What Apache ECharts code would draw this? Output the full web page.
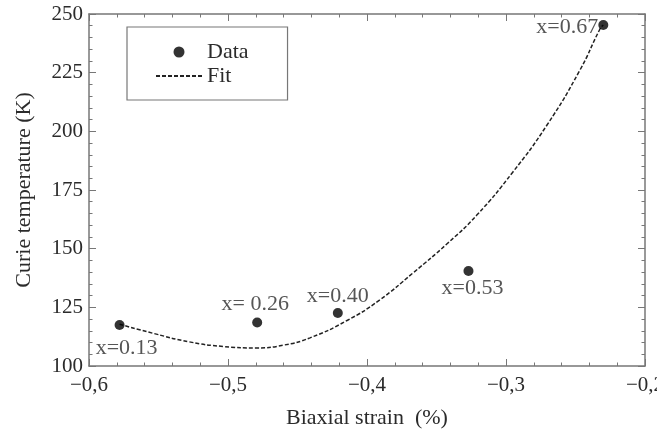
<!DOCTYPE html>
<html>
<head>
<meta charset="utf-8">
<title>Curie temperature vs biaxial strain</title>
<script src="https://cdn.jsdelivr.net/npm/echarts@6/dist/echarts.min.js"></script>
<style>
  html, body { margin: 0; padding: 0; background: #fff; }
  #chart { width: 657px; height: 432px; }
</style>
</head>
<body>
<div id="chart"></div>
<script>
// measured points
var strain = [-0.578, -0.479, -0.421, -0.327, -0.230];
var curieT = [117.5, 118.5, 122.6, 140.5, 245.3];
var comps = ['x=0.13', 'x= 0.26', 'x=0.40', 'x=0.53', 'x=0.67'];

// fit curve
var fitStrain = [-0.578, -0.553, -0.528, -0.503, -0.480, -0.460, -0.441, -0.414, -0.391, -0.367, -0.342, -0.321, -0.295, -0.2705, -0.2468, -0.2324, -0.230];
var fitTc = [117.8, 113.8, 110.3, 108.3, 107.7, 108.9, 112.0, 119.5, 128.1, 139.6, 152.3, 164.3, 182.7, 202.7, 226.1, 243.6, 245.3];

// label offsets for each point (px, from the dot centre)
var labelOffsets = [[7, 23], [-2, -18], [0, -17], [4, 17], [-36, 2]];

var font = 'Liberation Serif';
var ink = '#2b2b2b';
var frame = '#777';

var chart = echarts.init(document.getElementById('chart'));

function fmt(v) {
	//comma decimals, true minus
	var s = (Math.round(v * 10) / 10).toString().replace('.', ',');
	return s.replace('-', '\u2212');
}

var points = strain.map(function (x, i) {
	return {
		value: [x, curieT[i]],
		name: comps[i],
		label: { offset: labelOffsets[i] }
	};
});
var fit = fitStrain.map(function (x, i) { return [x, fitTc[i]]; });

var tickStyle = { inside: true, length: 7, lineStyle: { color: frame, width: 1 } };
var minorStyle = { show: true, splitNumber: 5, length: 3.5, lineStyle: { color: frame, width: 1 } };
var lineStyleAxis = { color: frame, width: 1.5 };

chart.setOption({
	backgroundColor: '#fff',
	animation: false,
	textStyle: { fontFamily: font, color: ink },
	grid: { left: 89, right: 12, top: 14, bottom: 66, outerBoundsMode: 'none' },
	legend: {
		orient: 'vertical',
		left: 127, top: 27,
		padding: [14, 39, 13, 28],
		itemGap: 2,
		itemWidth: 46, itemHeight: 11,
		borderColor: frame, borderWidth: 1.2,
		textStyle: { fontFamily: font, fontSize: 22, color: ink },
		data: [
			{ name: 'Data', icon: 'circle' },
			{ name: 'Fit', itemStyle: { color: 'rgba(0,0,0,0)', borderWidth: 0 } }
		]
	},
	xAxis: [{
		type: 'value', min: -0.6, max: -0.2, interval: 0.1,
		name: 'Biaxial strain  (%)', nameLocation: 'middle', nameGap: 41,
		nameTextStyle: { fontFamily: font, fontSize: 22, color: ink },
		axisLine: { onZero: false, lineStyle: lineStyleAxis },
		axisTick: tickStyle, minorTick: minorStyle,
		splitLine: { show: false },
		axisLabel: { formatter: fmt, fontFamily: font, fontSize: 21, color: ink, margin: 9 }
	}, {
		type: 'value', position: 'top', min: -0.6, max: -0.2, interval: 0.1,
		axisLine: { onZero: false, lineStyle: lineStyleAxis },
		axisTick: tickStyle, minorTick: minorStyle,
		splitLine: { show: false }, axisLabel: { show: false }
	}],
	yAxis: [{
		type: 'value', min: 100, max: 250, interval: 25,
		name: 'Curie temperature (K)', nameLocation: 'middle', nameGap: 54, nameRotate: 90,
		nameTextStyle: { fontFamily: font, fontSize: 22, color: ink },
		axisLine: { show: true, onZero: false, lineStyle: lineStyleAxis },
		axisTick: tickStyle, minorTick: minorStyle,
		splitLine: { show: false },
		axisLabel: { fontFamily: font, fontSize: 21, color: ink, margin: 6 }
	}, {
		type: 'value', position: 'right', min: 100, max: 250, interval: 25,
		axisLine: { show: true, onZero: false, lineStyle: lineStyleAxis },
		axisTick: tickStyle, minorTick: minorStyle,
		splitLine: { show: false }, axisLabel: { show: false }
	}],
	series: [{
		name: 'Fit',
		type: 'line',
		data: fit,
		smooth: 0.5,
		showSymbol: false,
		symbol: 'none',
		itemStyle: { color: '#222' },
		lineStyle: { color: '#222', width: 1.5, type: [4, 2] },
		z: 2
	}, {
		name: 'Data',
		type: 'scatter',
		data: points,
		symbol: 'circle',
		symbolSize: 10,
		itemStyle: { color: '#000' },
		label: {
			show: true,
			position: 'inside',
			formatter: '{b}',
			fontFamily: font, fontSize: 22, color: ink
		},
		z: 3
	}]
});
</script>
</body>
</html>
